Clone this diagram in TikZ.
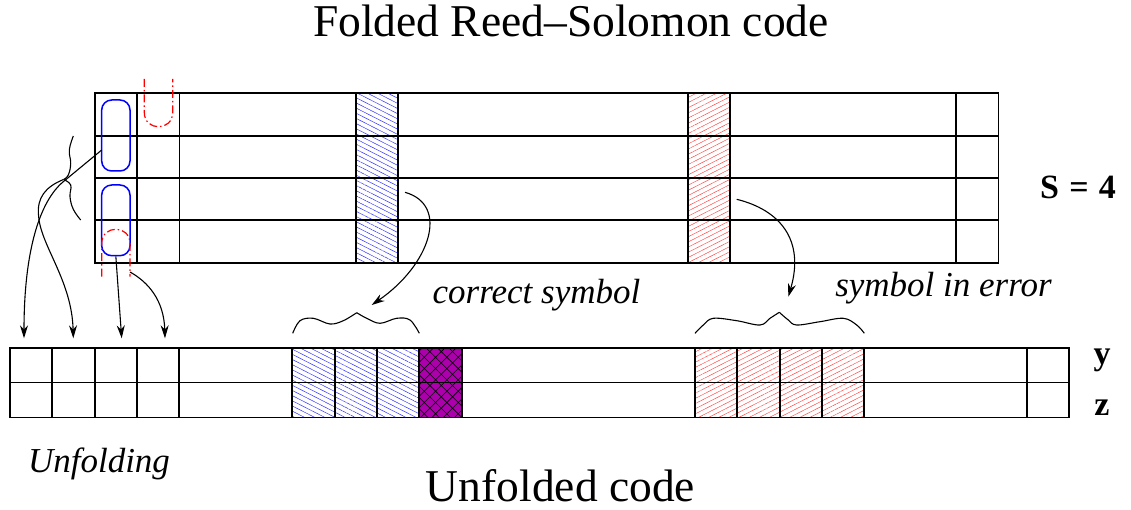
\documentclass[tikz,border=0pt]{standalone}
\usepackage{fontspec}
\setmainfont{Liberation Serif}[ItalicFont={Liberation Serif Italic},BoldFont={Liberation Serif Bold}]
\usetikzlibrary{arrows.meta,patterns.meta}
\definecolor{fillpurple}{RGB}{172,0,172}
\begin{document}
\begin{tikzpicture}[x=1pt,y=-1pt,
  grid/.style={line width=1.7pt, draw=black},
  conn/.style={line width=1.1pt, -{Stealth[length=13pt,width=8pt]}},
  brace/.style={line width=1.1pt},
  foldbox/.style={draw=blue, line width=1.5pt, rounded corners=10pt, inner sep=0pt, minimum width=28.3pt},
  wrap/.style={draw=red, line width=1.2pt, dash pattern=on 8pt off 3pt on 1.5pt off 3pt},
  bluehatch/.style={pattern={Lines[angle=-27,distance=4.6pt,line width=0.5pt]}, pattern color=blue!80},
  redhatch/.style={pattern={Lines[angle=27,distance=4.6pt,line width=0.5pt]}, pattern color=red!70},
  purplecell/.style={preaction={fill=fillpurple}, pattern={Hatch[angle=45,distance=8pt,line width=0.6pt]}, pattern color=black},
  bigtext/.style={font=\fontsize{45.5}{54}\selectfont, inner sep=0pt},
  itlabel/.style={font=\fontsize{35}{42}\selectfont\itshape, inner sep=0pt},
  bflabel/.style={font=\fontsize{34}{40}\selectfont\bfseries, inner sep=0pt}
]
\useasboundingbox (0,0) rectangle (1131,510);

% hatched columns / cells
\path[bluehatch] (356,93.3) rectangle (398.3,262.7);
\path[redhatch] (687.7,93.3) rectangle (730.3,262.7);
\path[bluehatch] (292.3,347.7) rectangle (419.3,417.5);
\path[purplecell] (419.3,347.7) rectangle (461.7,417.5);
\path[redhatch] (695,347.7) rectangle (864.3,417.5);

% folded code grid
\draw[grid] (95,93.3) rectangle (998.5,262.7);
\foreach \y in {135.7,178,220.3} \draw[grid] (95,\y) -- (998.5,\y);
\foreach \x in {137.3,179.6,356,398.3,687.7,730.3,956} \draw[grid] (\x,93.3) -- (\x,262.7);

% unfolded code grid
\draw[grid] (10,347.7) rectangle (1069,417.5);
\draw[grid] (10,382.6) -- (1069,382.6);
\foreach \x in {52.3,94.7,137,179.3,292.3,334.7,377,419.3,461.7,695,737.3,779.7,822,864.3,1026.7}
  \draw[grid] (\x,347.7) -- (\x,417.5);

% folded groups
\node[foldbox, minimum height=71pt] (fold1) at (115.85,135.5) {};
\node[foldbox, minimum height=70.7pt] (fold2) at (115.85,220.35) {};

% wrap-around markers
\draw[wrap] (144.3,79) -- (144.3,112.5) .. controls (144.3,131.5) and (172.7,131.5) .. (172.7,112.5) -- (172.7,79);
\draw[wrap] (101.7,276.7) -- (101.7,243.5) .. controls (101.7,224.5) and (130,224.5) .. (130,243.5) -- (130,276.7);

% coordinates
\coordinate (f1w) at (101.7,150);
\coordinate (btip) at (63.5,179.5);
\coordinate (wrapR) at (130,272);
\coordinate (u1) at (24,338.3);
\coordinate (u2) at (73.3,338.3);
\coordinate (u3) at (121.7,338.3);
\coordinate (u4) at (165,338.3);
\coordinate (bluesrc) at (405,192.3);
\coordinate (bluedst) at (371.7,305);
\coordinate (redsrc) at (736.7,199.3);
\coordinate (reddst) at (788.3,296.7);

% left vertical brace
\draw[brace] plot[smooth, tension=0.7] coordinates {(73.3,136) (69.3,150) (70.7,163.3) (68.3,175) (btip)};
\draw[brace] plot[smooth, tension=0.7] coordinates {(btip) (70.7,185) (70,196.7) (73.3,209.3) (80.7,220)};

% unfolding arrows
\draw[conn] (f1w) -- (63.3,181.7) .. controls (40,201) and (24,250) .. (u1);
\draw[conn] (btip) .. controls (45,187) and (37,198) .. (38.5,215) .. controls (40,245) and (72,280) .. (u2);
\draw[conn] (fold2.south) -- (u3);
\draw[conn] (wrapR) .. controls (148,282) and (164,300) .. (u4);

% braces over symbols
\draw[brace] plot[smooth, tension=0.6] coordinates {(292.7,333.3) (300,320.7) (313.3,318.3) (330,324) (343.3,320.7) (356.7,312.7)};
\draw[brace] plot[smooth, tension=0.6] coordinates {(356.7,312.7) (366.7,318.3) (380,323.3) (396.7,318.3) (410,320) (419.3,333.3)};
\draw[brace] plot[smooth, tension=0.6] coordinates {(695,333.3) (703.3,325) (713.3,318.3) (736.7,320.7) (760,325) (770,318.3) (779.3,312.3)};
\draw[brace] plot[smooth, tension=0.6] coordinates {(779.3,312.3) (788.3,320) (796.7,325) (820,321.7) (843.3,318.3) (856.7,325) (864.3,333.3)};

% symbol arrows
\draw[conn] (bluesrc) .. controls (450,205) and (430,265) .. (bluedst);
\draw[conn] (redsrc) .. controls (780,210) and (805,240) .. (reddst);

% texts
\node[bigtext, anchor=base] (title) at (571,37) {Folded Reed--Solomon code};
\node[bigtext, anchor=base] (unfcode) at (560.5,501) {Unfolded code};
\node[itlabel, anchor=base] (correct) at (536.5,303) {correct symbol};
\node[itlabel, anchor=base] (inerror) at (943.5,296) {symbol in error};
\node[itlabel, anchor=base] (unfolding) at (99,472) {Unfolding};
\node[bflabel, anchor=base] (sval) at (1078,199) {S\hspace{0.3em}=\hspace{0.3em}4};
\node[bflabel, anchor=base] (ylab) at (1102,364) {y};
\node[bflabel, anchor=base] (zlab) at (1102,415) {z};
\end{tikzpicture}
\end{document}
